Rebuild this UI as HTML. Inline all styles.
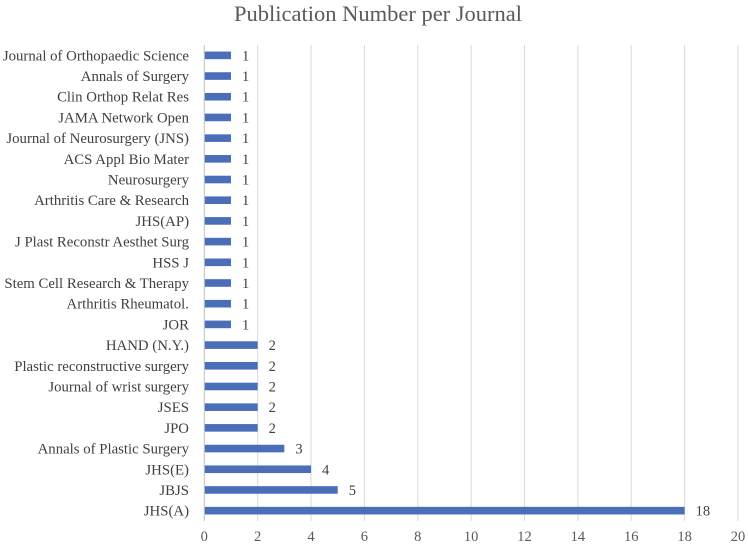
<!DOCTYPE html>
<html><head><meta charset="utf-8"><style>
html,body{margin:0;padding:0;background:#fff;}
svg{display:block;font-family:"Liberation Serif",serif;}
</style></head><body>
<svg id="chart" width="748" height="548">
<text x="378" y="21" text-anchor="middle" font-size="22.5" fill="#595959">Publication Number per Journal</text>
<g id="grid"></g><g id="bars"></g><g id="labels"></g>
</svg>
<script>
const categories = ["Journal of Orthopaedic Science","Annals of Surgery","Clin Orthop Relat Res","JAMA Network Open","Journal of Neurosurgery (JNS)","ACS Appl Bio Mater","Neurosurgery","Arthritis Care & Research","JHS(AP)","J Plast Reconstr Aesthet Surg","HSS J","Stem Cell Research & Therapy","Arthritis Rheumatol.","JOR","HAND (N.Y.)","Plastic reconstructive surgery","Journal of wrist surgery","JSES","JPO","Annals of Plastic Surgery","JHS(E)","JBJS","JHS(A)"];
const values = [1,1,1,1,1,1,1,1,1,1,1,1,1,1,2,2,2,2,2,3,4,5,18];
const ticks = [0,2,4,6,8,10,12,14,16,18,20];
const NS="http://www.w3.org/2000/svg";
const x0=204.3, x1=738, y0=45, y1=521, vmax=20;
const xs=v=>x0+(x1-x0)*v/vmax;
const step=(y1-y0)/categories.length;
const yc=i=>y0+step*(i+0.5);
function mk(t,a,parent){const e=document.createElementNS(NS,t);for(const k in a)e.setAttribute(k,a[k]);document.getElementById(parent).appendChild(e);return e;}
ticks.forEach(t=>{
  const l=mk('line',{x1:xs(t),x2:xs(t),y1:y0,y2:y1,stroke:t===0?'#bfbfbf':'#d9d9d9','stroke-width':1},'grid');
  
  
  const tx=mk('text',{x:xs(t),y:541,'text-anchor':'middle','font-size':14.5,fill:'#595959'},'labels');
  tx.textContent=t;
  
  
});
categories.forEach((c,i)=>{
  const y=yc(i), v=values[i];
  const r=mk('rect',{x:x0+0.5,y:y-3.8,width:xs(v)-x0-0.5,height:7.6,fill:'#4a6eb8'},'bars');
  
  
  const lb=mk('text',{x:189,y:y+5,'text-anchor':'end','font-size':14.8,fill:'#404040'},'labels');
  lb.textContent=c;
  
  
  const vl=mk('text',{x:xs(v)+11,y:y+5,'font-size':14.5,fill:'#404040'},'labels');
  vl.textContent=v;
  
  
});
</script>
</body></html>
